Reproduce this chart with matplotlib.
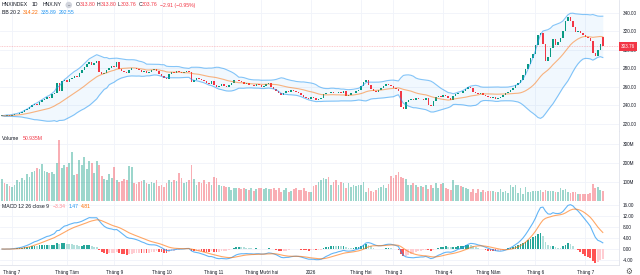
import numpy as np
import pandas as pd
import matplotlib
matplotlib.use("Agg")
import matplotlib.pyplot as plt

# Cours de cloture quotidiens
close = [
    229, 228.5, 229.5, 229, 230,
    230.5, 231, 232,
    233, 235, 236, 238, 240,
    242, 241, 244, 246,
    247, 249, 248, 252, 254,
    264, 256,
    266, 268, 265, 269, 270,
    272, 271, 275, 278,
    282, 285, 287, 284, 286, 288,
    276,
    274, 275,
    278, 281, 283, 282,
    287,
    279, 277, 276, 275,
    278, 281, 280, 279,
    278, 276, 277, 275, 276,
    278, 279, 277,
    274, 272, 270, 269,
    274, 276, 275, 277, 276, 275, 276, 277, 276,
    265,
    268, 270, 269, 267, 266, 264, 263, 266,
    262, 260, 261, 263, 261, 260, 262,
    264, 267, 268, 266,
    265, 263, 264, 262,
    262.5, 261, 263, 262, 260, 261, 263,
    264,
    260, 258, 256, 253, 251,
    254, 256, 255, 257, 256, 255,
    253, 251,
    249, 248, 247, 249, 248, 246, 247, 248,
    252, 254, 253, 255, 254, 253, 255, 254, 256, 250,
    251, 253, 254, 256, 257,
    261, 265, 268,
    262, 258, 256, 255,
    257, 259, 261, 263, 262,
    261, 259, 258, 256,
    238, 236,
    244, 246, 247, 246, 248, 247,
    247.5, 246, 248,
    241, 239,
    245, 249, 250, 249, 251, 250,
    248, 246,
    250, 252, 254, 253, 256, 258, 260,
    259,
    255, 254, 252, 253, 251, 250,
    249, 248, 249, 247, 248, 249,
    251, 253, 255, 257, 259, 262, 264,
    268, 273, 279, 285, 291, 296,
    305, 316,
    318, 306,
    288, 292,
    302, 312, 305, 309,
    313, 321, 331,
    336, 331,
    325, 319, 321,
    318, 316, 314,
    313, 310,
    297, 294,
    300,
    306.67,
    303.76,
]
last_open = 313.80

# Volume en millions
volume = [
    115, 95, 90, 80, 73, 85, 110, 100, 120, 110,
    140, 125, 150, 160, 175, 170, 195, 160, 150, 145,
    150, 140, 200, 320, 175, 190, 180, 200, 258, 137,
    140, 218, 190, 230, 170, 210, 200, 145, 210, 190,
    130, 115, 110, 140, 120, 180, 110, 100, 105, 115,
    110, 185, 180, 95, 90, 100, 105, 110, 95, 90,
    100, 95, 110, 80, 85, 75, 95, 110, 100, 110,
    105, 145, 120, 95, 100, 110, 190, 115, 85, 100,
    95, 110, 90, 100,
    84, 126, 119, 84, 80, 80, 74, 76, 60, 68,
    68, 70, 65, 70, 62, 60, 67, 55, 62, 67,
    67, 65, 67, 65, 62, 67, 60, 70, 49, 60,
    67, 49, 55, 62, 67, 60, 60, 67, 55, 49,
    45, 80, 84, 100, 110, 120, 115, 125, 84, 100,
    110, 84, 100, 95, 67, 95, 75, 84, 80, 84,
    84, 102, 49, 67, 55, 49, 60, 67, 75, 84,
    67, 90, 131, 120, 137, 152, 128, 120, 115, 84,
    84, 95, 84, 75, 80, 75, 84, 65, 84, 70,
    95, 67, 88, 95, 67, 62, 60, 110, 84, 84,
    80, 72, 67, 62, 45, 62, 40, 62, 50, 60,
    45, 55, 52, 52, 50, 46, 65, 45, 55, 40,
    84, 75, 84, 40, 67, 35, 76, 50, 50, 52,
    55, 55, 58, 50, 60, 55, 55, 52, 50, 45,
    67, 60, 62, 49, 40, 45, 50, 35, 35, 35,
    35, 35, 40, 89, 67, 75, 60, 50.935,
]

month_labels = ["Tháng 7", "Tháng Tám", "Tháng 9", "Tháng 10", "Tháng 11",
                "Tháng Mười hai", "2026", "Tháng Hai", "Tháng 3", "Tháng 4",
                "Tháng Năm", "Tháng 6", "Tháng 7"]
month_pos = [4, 26, 45, 64, 85, 104, 124, 144, 157, 177, 195, 214, 234]

# Valeurs affichees dans les legendes
ohlc_text = [("O", "313.80"), ("H", "313.80"), ("L", "303.76"), ("C", "303.76")]
change_text = "−2.91 (−0.95%)"
bb_text = ["314.22", "335.89", "292.55"]
vol_text = "50.935M"
macd_text = ["−3.34", "1.47", "4.81"]

UP = "#089981"
DOWN = "#f23645"
TXT = "#131722"
AX_FS = 3.3


def px(x, y):
    return x / 640, 1 - y / 275


def chain(fig, rend, y, pieces, x0, fs):
    # place les morceaux de texte les uns apres les autres
    x = x0
    for s, col, gap in pieces:
        x += gap
        tt = fig.text(*px(x, y), s, fontsize=fs, color=col, va="center")
        x = tt.get_window_extent(rend).x1
    return x


def draw_chart():
    plt.rcParams["font.family"] = ["Liberation Sans", "DejaVu Sans"]
    c = pd.Series(close, dtype=float)
    o = c.shift(1)
    o.iloc[0] = c.iloc[0]
    o.iloc[-1] = last_open
    x = np.arange(len(c))
    up = (c >= o).values

    # Bandes de Bollinger (20, 2) et MACD (12, 26, 9)
    mid = c.rolling(20, min_periods=1).mean()
    sd = c.rolling(20, min_periods=1).std(ddof=0).fillna(0)
    upper, lower = mid + 2 * sd, mid - 2 * sd
    macd = c.ewm(span=12, adjust=False).mean() - c.ewm(span=26, adjust=False).mean()
    signal = macd.ewm(span=9, adjust=False).mean()
    hist = macd - signal
    dh = hist.diff().fillna(0)

    fig = plt.figure(figsize=(6.4, 2.75), dpi=100)
    ax_p = fig.add_axes([0, 1 - 131 / 275, 619 / 640, 131 / 275])
    ax_v = fig.add_axes([0, 1 - 202 / 275, 619 / 640, 71 / 275], sharex=ax_p)
    ax_m = fig.add_axes([0, 1 - 265 / 275, 619 / 640, 63 / 275], sharex=ax_p)

    for ax in (ax_p, ax_v, ax_m):
        ax.set_facecolor("white")
        for s in ("top", "left"):
            ax.spines[s].set_visible(False)
        for s in ("right", "bottom"):
            ax.spines[s].set_color("#e0e3eb")
            ax.spines[s].set_linewidth(0.6)
        ax.yaxis.tick_right()
        ax.tick_params(axis="y", length=0, labelsize=AX_FS, labelcolor=TXT, pad=2.5)
        ax.tick_params(axis="x", length=0, labelsize=AX_FS, labelcolor=TXT, pad=3.5)
        ax.grid(True, color="#f0f3fa", linewidth=0.6)
        ax.set_axisbelow(True)
        ax.set_xticks(month_pos)
    ax_p.tick_params(axis="x", labelbottom=False)
    ax_v.tick_params(axis="x", labelbottom=False)
    ax_m.set_xticklabels(month_labels)
    ax_p.set_xlim(-0.8, 247.5)

    # Prix
    ax_p.fill_between(x, lower, upper, color="#2196f3", alpha=0.06, linewidth=0)
    ax_p.plot(x, upper, color="#2196f3", alpha=0.55, lw=0.8)
    ax_p.plot(x, lower, color="#2196f3", alpha=0.55, lw=0.8)
    ax_p.plot(x, mid, color="#ff6d00", alpha=0.5, lw=0.8)
    body_lo = np.minimum(o, c)
    body_h = np.maximum(np.abs(c - o), 0.4)
    ax_p.bar(x, body_h, bottom=body_lo, width=0.6,
             color=np.where(up, UP, DOWN), linewidth=0)
    ax_p.axhline(close[-1], color=DOWN, alpha=0.35, lw=0.6, ls=(0, (1, 1)))
    ax_p.set_ylim(212.4, 354)
    ax_p.set_yticks(range(220, 341, 20))
    ax_p.set_yticklabels([f"{v:.2f}" for v in range(220, 341, 20)])
    ax_p.text(1.003, close[-1], f"{close[-1]:.2f}", transform=ax_p.get_yaxis_transform(),
              fontsize=AX_FS, color="white", va="center", ha="left",
              bbox=dict(boxstyle="square,pad=0.45", fc=DOWN, ec="none"))

    # Volume
    ax_v.bar(x, volume, width=0.7, color=np.where(up, UP, DOWN),
             alpha=0.4, linewidth=0)
    ax_v.set_ylim(-5, 368)
    ax_v.set_yticks([100, 200, 300])
    ax_v.set_yticklabels(["100M", "200M", "300M"])

    # MACD
    hcol = np.where(hist >= 0, np.where(dh >= 0, "#26a69a", "#b2dfdb"),
                    np.where(dh >= 0, "#ffcdd2", "#ff5252"))
    ax_m.bar(x, hist, width=0.7, color=hcol, linewidth=0)
    ax_m.plot(x, macd, color="#2196f3", alpha=0.7, lw=0.8)
    ax_m.plot(x, signal, color="#ff6d00", alpha=0.6, lw=0.8)
    ax_m.set_ylim(-5.8, 17.1)
    ax_m.set_yticks([-4, 0, 4, 8, 12, 16])
    ax_m.set_yticklabels([f"{v:.2f}" for v in [-4, 0, 4, 8, 12, 16]])

    # En-tetes
    rend = fig.canvas.get_renderer()
    fs = 3.7
    xe = chain(fig, rend, 5, [("HNXINDEX", TXT, 0), ("1D", TXT, 4), ("HNX.NY", TXT, 4)], 2, fs)
    fig.text(*px(xe + 7, 5), "–", fontsize=3, color=TXT, va="center", ha="center",
             bbox=dict(boxstyle="circle,pad=0.3", fc="#d1d4dc", ec="none"))
    pieces = []
    for lab, val in ohlc_text:
        pieces += [(lab, TXT, 1.5), (val, DOWN, 0.3)]
    pieces.append((change_text, DOWN, 1.8))
    chain(fig, rend, 5, pieces, xe + 12, fs)
    chain(fig, rend, 13, [("BB 20 2", TXT, 0), (bb_text[0], "#ff6d00", 2.5),
                          (bb_text[1], "#2196f3", 2.5), (bb_text[2], "#2196f3", 2.5)], 2, fs)
    chain(fig, rend, 139, [("Volume", TXT, 0), (vol_text, DOWN, 4)], 2, fs)
    chain(fig, rend, 207, [("MACD 12 26 close 9", TXT, 0), (macd_text[0], "#ff8a95", 4),
                           (macd_text[1], "#2196f3", 2.5),
                           (macd_text[2], "#ff6d00", 2.5)], 2, fs)
    fig.text(*px(629, 271), "⚙", fontsize=5.5, color="#555", ha="center", va="center",
             family="DejaVu Sans")

    fig.savefig("out.png", dpi=100, facecolor="white")


if __name__ == "__main__":
    draw_chart()
